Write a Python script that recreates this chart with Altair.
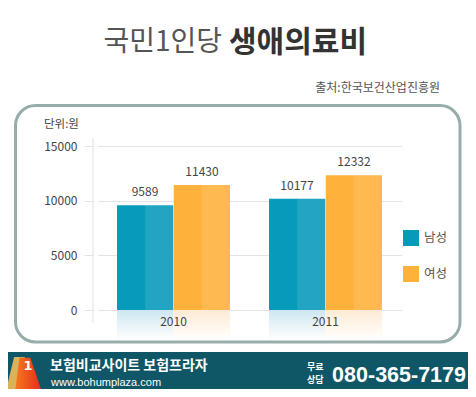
import altair as alt
import pandas as pd

# ---- data ----
years = ["2010", "2011"]
genders = ["남성", "여성"]
male = [9589, 10177]
female = [11430, 12332]
halves = ["남성1", "남성2", "여성1", "여성2"]
y_ticks = [0, 5000, 10000, 15000]

title_light = "국민1인당"
title_bold = "생애의료비"
source_text = "출처:한국보건산업진흥원"
unit_text = "단위:원"
footer_name = "보험비교사이트 보험프라자"
footer_url = "www.bohumplaza.com"
footer_free = ["무료", "상담"]
footer_phone = "080-365-7179"

KR = "Noto Sans CJK KR"
MALE_C = "#069abb"
FEMALE_C = "#feb23c"

rows = []
for i, yr in enumerate(years):
    rows.append({"year": yr, "gender": "남성", "value": male[i], "label": str(male[i])})
    rows.append({"year": yr, "gender": "여성", "value": female[i], "label": str(female[i])})
df = pd.DataFrame(rows)

half_rows = []
for i, yr in enumerate(years):
    half_rows.append({"year": yr, "half": "남성2", "value": male[i]})
    half_rows.append({"year": yr, "half": "여성2", "value": female[i]})
df_half = pd.DataFrame(half_rows)

x_enc = alt.X(
    "year:N",
    scale=alt.Scale(domain=years, range=[4.5, 308.5], paddingInner=0.2566, paddingOuter=0.1283),
    axis=alt.Axis(title=None, ticks=False, tickSize=0, domain=False, grid=False, labelPadding=6,
                  labelFontSize=12, labelColor="#444", labelFont=KR, labelAngle=0, zindex=1),
)
y_enc = alt.Y(
    "value:Q",
    scale=alt.Scale(domain=[0, 15000], nice=False),
    axis=alt.Axis(title=None, values=y_ticks, format="d", grid=True, gridColor="#e3e3e3",
                  tickColor="#e3e3e3", tickSize=9, domain=False, labelPadding=7, labelFontSize=12,
                  labelColor="#444", labelFont=KR),
)
g_scale = alt.Scale(domain=genders, paddingInner=0.009, paddingOuter=0)
h_scale = alt.Scale(domain=halves, paddingInner=0, paddingOuter=0)

one = pd.DataFrame({"k": [0]})

def txt(text, x, y, size, color, weight="normal", align="left", font=KR):
    return alt.Chart(pd.DataFrame({"t": [text]})).mark_text(
        align=align, baseline="middle", fontSize=size, color=color, fontWeight=weight, font=font
    ).encode(x=alt.value(x), y=alt.value(y), text="t:N")

panel = alt.Chart(one).mark_rect(
    fillOpacity=0, stroke="#97adab", strokeWidth=3, cornerRadius=20
).encode(x=alt.value(-77.5), x2=alt.value(367), y=alt.value(-40.5), y2=alt.value(196))

axis_line = alt.Chart(one).mark_rule(color="#e3e3e3", strokeWidth=1).encode(
    x=alt.value(0), y=alt.value(-8), y2=alt.value(177)
)

def refl(gender, top):
    return alt.Chart(df[df.gender == gender]).mark_bar(
        color=alt.Gradient(gradient="linear", x1=0, x2=0, y1=0, y2=1,
                           stops=[alt.GradientStop(color=top, offset=0),
                                  alt.GradientStop(color="#ffffff", offset=1)])
    ).encode(x=x_enc, xOffset=alt.XOffset("gender:N", scale=g_scale),
             y=alt.value(164), y2=alt.value(194))

bars = alt.Chart(df).mark_bar().encode(
    x=x_enc,
    xOffset=alt.XOffset("gender:N", scale=g_scale),
    y=y_enc,
    color=alt.Color(
        "gender:N",
        scale=alt.Scale(domain=genders, range=[MALE_C, FEMALE_C]),
        legend=alt.Legend(title=None, orient="none", legendX=310, legendY=84, symbolType="square",
                          symbolSize=256, symbolStrokeWidth=0, labelFontSize=12.5, labelColor="#555",
                          labelFont=KR, labelOffset=5, rowPadding=20, padding=0),
    ),
)

overlay = alt.Chart(df_half).mark_bar(color="white", opacity=0.11).encode(
    x=x_enc, xOffset=alt.XOffset("half:N", scale=h_scale), y=y_enc
)

def value_labels(gender, dx):
    return alt.Chart(df[df.gender == gender]).mark_text(
        baseline="bottom", dy=-6, dx=dx, fontSize=12, color="#444", font=KR
    ).encode(x=x_enc, y=y_enc, text="label:N")

footer = alt.Chart(one).mark_rect(color="#0f5666").encode(
    x=alt.value(-90), x2=alt.value(380), y=alt.value(206), y2=alt.value(260)
)

logo_back = alt.Chart(one).mark_point(
    shape="M -0.55 -1 L 0.05 -1 L -0.45 1 L -1 0.85 Z", filled=True, size=1300,
    color="#d9b25a", opacity=1, strokeWidth=0
).encode(x=alt.value(-69), y=alt.value(229))
logo_front = alt.Chart(one).mark_point(
    shape="M -0.25 -0.95 L 0.35 -0.95 L 1 0.95 L -0.5 0.95 Z", filled=True, size=1300,
    color=alt.Gradient(gradient="linear", x1=0, x2=1, y1=0, y2=0,
                       stops=[alt.GradientStop(color="#f57a1e", offset=0),
                              alt.GradientStop(color="#e52a1c", offset=1)]),
    opacity=1, strokeWidth=0
).encode(x=alt.value(-69), y=alt.value(229))

layers = [
    panel,
    axis_line,
    refl("남성", "#cde7f0"),
    refl("여성", "#fdebd4"),
    bars,
    overlay,
    value_labels("남성", -28.5),
    value_labels("여성", 28.5),
    txt(title_light, 129, -103, 28, "#555555", align="right"),
    txt(title_bold, 136, -103, 30, "#333333", weight="bold"),
    txt(source_text, 347, -58, 12, "#555555", align="right"),
    txt(unit_text, -49, -21, 11.5, "#444444"),
    footer,
    logo_back,
    logo_front,
    txt("1", -65, 220, 13, "white", weight="bold", align="center", font="DejaVu Sans"),
    txt(footer_name, -43, 220, 14, "white", weight="bold"),
    txt(footer_url, -42, 237, 11, "white", font="Liberation Sans"),
    txt(footer_free[0], 214, 220.5, 9, "white", weight="bold"),
    txt(footer_free[1], 214, 234, 9, "white", weight="bold"),
    txt(footer_phone, 373, 230, 21.5, "white", weight="bold", align="right",
        font="Liberation Sans Narrow, Liberation Sans"),
]

chart = alt.layer(*layers).resolve_scale(xOffset="independent").properties(
    width=337, height=164,
    autosize=alt.AutoSizeParams(type="none"),
    padding={"left": 85, "top": 138, "right": 38, "bottom": 79},
    background="white",
).configure_view(stroke=None)

chart.save("out.html", embed_options={"renderer": "svg", "actions": False})
